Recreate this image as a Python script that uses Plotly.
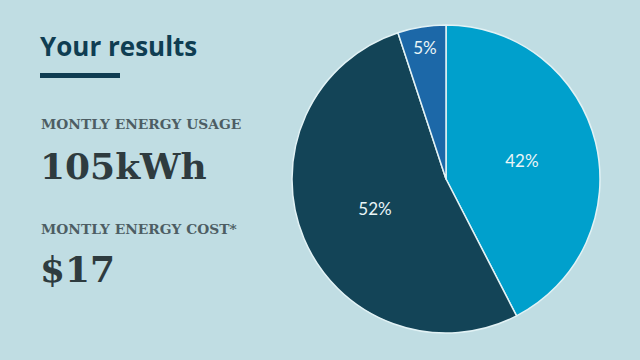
import plotly.graph_objects as go

# Data
categories = ["Category A", "Category B", "Category C"]
values = [42, 52, 5]
slice_colors = ["#00a0cc", "#134457", "#1c68a8"]

title_text = "Your results"
usage_label = "MONTLY ENERGY USAGE"
usage_value = "105kWh"
cost_label = "MONTLY ENERGY COST*"
cost_value = "$17"

W, H = 640, 360
BG = "#c0dde3"

fig = go.Figure()
fig.add_trace(go.Pie(
    labels=categories,
    values=values,
    sort=False,
    direction="clockwise",
    rotation=0,
    marker=dict(colors=slice_colors, line=dict(color="#e2f2f5", width=1.5)),
    texttemplate="%{value}%",
    textposition="inside",
    insidetextorientation="horizontal",
    textfont=dict(family="Lato", size=17, color="#eaf5f7"),
    domain=dict(x=[292 / W, 600 / W], y=[(H - 333) / H, (H - 25) / H]),
    showlegend=False,
    hoverinfo="skip",
))

def px_x(x):
    return x / W

def px_y(y):
    return 1 - y / H

annots = [
    dict(text=title_text, x=px_x(38), y=px_y(46), size=26, color="#0f3d52",
         family="Open Sans", weight=700),
    dict(text=usage_label, x=px_x(39), y=px_y(124), size=13.8, color="#4d5d63",
         family="DejaVu Serif", weight=700),
    dict(text=usage_value, x=px_x(38), y=px_y(166), size=36, color="#2e3b3f",
         family="DejaVu Serif", weight=700),
    dict(text=cost_label, x=px_x(39), y=px_y(229), size=13.8, color="#4d5d63",
         family="DejaVu Serif", weight=700),
    dict(text=cost_value, x=px_x(38), y=px_y(269), size=36, color="#2e3b3f",
         family="DejaVu Serif", weight=700),
]
for a in annots:
    fig.add_annotation(text=a["text"], x=a["x"], y=a["y"], xref="paper", yref="paper",
                       xanchor="left", yanchor="middle", showarrow=False,
                       font=dict(family=a["family"], size=a["size"], color=a["color"],
                                 weight=a["weight"]))

fig.add_shape(type="rect", xref="paper", yref="paper",
              x0=px_x(40), x1=px_x(120), y0=px_y(78), y1=px_y(73),
              fillcolor="#0f3d52", line=dict(width=0))

fig.update_layout(
    width=W, height=H,
    margin=dict(l=0, r=0, t=0, b=0),
    paper_bgcolor=BG, plot_bgcolor=BG,
)

fig.write_html("out.html")
